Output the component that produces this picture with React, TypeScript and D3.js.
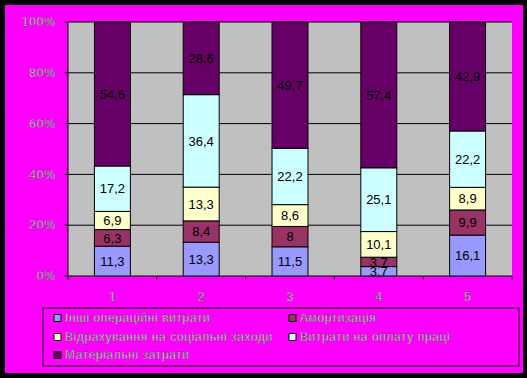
import React from "react";
import * as d3 from "d3";

const categories = ["1", "2", "3", "4", "5"];
const seriesNames = [
  "Інші операційні витрати",
  "Амортизація",
  "Відрахування на соціальні заходи",
  "Витрати на оплату праці",
  "Матеріальні затрати",
];
const otherOps = [11.3, 13.3, 11.5, 3.7, 16.1];
const amort = [6.3, 8.4, 8, 3.7, 9.9];
const social = [6.9, 13.3, 8.6, 10.1, 8.9];
const wages = [17.2, 36.4, 22.2, 25.1, 22.2];
const materials = [54.6, 28.6, 49.7, 57.4, 42.9];
const yTicks = [0, 20, 40, 60, 80, 100];
const colors = ["#9999FF", "#993366", "#FFFFCC", "#CCFFFF", "#660066"];

const W = 527;
const H = 378;
const plot = { left: 68, right: 512, top: 22, bottom: 276 };

export default function App() {
  const series = [otherOps, amort, social, wages, materials];
  const x = d3
    .scaleBand<string>()
    .domain(categories)
    .range([plot.left, plot.right])
    .paddingInner(0.595)
    .paddingOuter(0.2975);
  const y = d3.scaleLinear().domain([0, 100]).range([plot.bottom, plot.top]);
  const table = categories.map((c, i) => {
    const row: any = { cat: c };
    seriesNames.forEach((n, k) => (row[n] = series[k][i]));
    return row;
  });
  const stacked = d3.stack<any>().keys(seriesNames).offset(d3.stackOffsetExpand)(table);
  const step = (plot.right - plot.left) / categories.length;
  const font = "Arial, 'Liberation Sans', sans-serif";
  const legendItems = [
    { k: 0, x: 54, y: 318 },
    { k: 1, x: 289, y: 318 },
    { k: 2, x: 54, y: 337 },
    { k: 3, x: 289, y: 337 },
    { k: 4, x: 54, y: 355 },
  ];
  const lightText = { fill: "#f2f2f2", stroke: "#333", strokeWidth: 0.35 };
  return (
    <svg
      width={W}
      height={H}
      style={{ position: "absolute", left: 0, top: 0 }}
      fontFamily={font}
    >
      <rect x={0} y={0} width={W} height={H} fill="#000" />
      <rect x={5} y={5} width={518} height={368} fill="#FF00FF" />
      <rect
        x={plot.left}
        y={plot.top}
        width={plot.right - plot.left}
        height={plot.bottom - plot.top}
        fill="#C0C0C0"
      />
      {yTicks.map((t) => (
        <g key={t}>
          <line
            x1={plot.left - 4}
            x2={plot.right}
            y1={y(t)}
            y2={y(t)}
            stroke="#000"
            strokeWidth={1}
          />
          <text
            x={56}
            y={y(t)}
            dy="0.35em"
            textAnchor="end"
            fontSize={12}
            letterSpacing={0.9}
            {...lightText}
          >
            {t}%
          </text>
        </g>
      ))}
      <line x1={plot.left} x2={plot.left} y1={plot.top} y2={plot.bottom} stroke="#000" />
      {d3.range(categories.length + 1).map((i) => (
        <line
          key={i}
          x1={plot.left + i * step}
          x2={plot.left + i * step}
          y1={plot.bottom}
          y2={plot.bottom + 4}
          stroke="#000"
        />
      ))}
      {stacked.map((layer, k) =>
        layer.map((d, i) => {
          const y0 = y(d[0] * 100);
          const y1 = y(d[1] * 100);
          const xx = x(categories[i])!;
          return (
            <rect
              key={k + "-" + i}
              x={xx}
              y={y1}
              width={x.bandwidth()}
              height={y0 - y1}
              fill={colors[k]}
              stroke="#000"
              strokeWidth={1}
            />
          );
        })
      )}
      {stacked.map((layer, k) =>
        layer.map((d, i) => {
          const y0 = y(d[0] * 100);
          const y1 = y(d[1] * 100);
          const xx = x(categories[i])! + x.bandwidth() / 2;
          return (
            <text
              key={"t" + k + "-" + i}
              x={xx}
              y={(y0 + y1) / 2}
              dy="0.36em"
              textAnchor="middle"
              fontSize={13}
              fill="#000"
            >
              {String(series[k][i]).replace(".", ",")}
            </text>
          );
        })
      )}
      {categories.map((c) => (
        <text
          key={c}
          x={x(c)! + x.bandwidth() / 2}
          y={297}
          dy="0.35em"
          textAnchor="middle"
          fontSize={12}
          {...lightText}
        >
          {c}
        </text>
      ))}
      <rect x={43} y={308} width={476} height={58} fill="none" stroke="#000" strokeWidth={1} />
      {legendItems.map((it) => (
        <g key={it.k}>
          <rect x={it.x} y={it.y - 3.5} width={7} height={7} fill={colors[it.k]} stroke="#000" />
          <text
            x={it.x + 11}
            y={it.y}
            dy="0.36em"
            fontSize={12}
            letterSpacing={0.6}
            {...lightText}
          >
            {seriesNames[it.k]}
          </text>
        </g>
      ))}
    </svg>
  );
}
